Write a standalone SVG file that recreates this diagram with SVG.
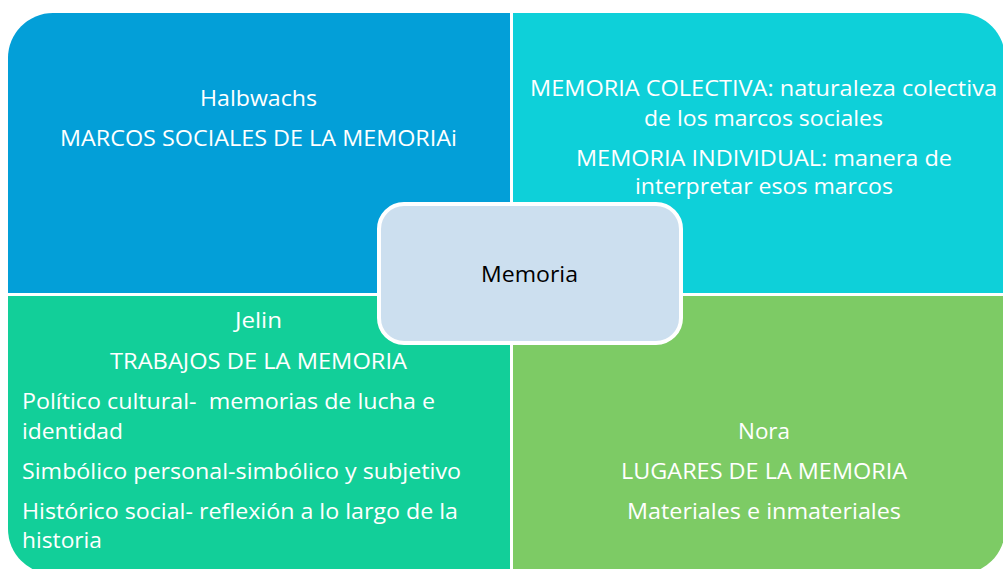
<svg xmlns="http://www.w3.org/2000/svg" width="1003" height="569" viewBox="0 0 1003 569">
<style>
.t{font-family:"Open Sans","Noto Sans","Liberation Sans",sans-serif;font-size:21.5px;fill:#ffffff;}
.c{text-anchor:middle;}
.k{fill:#000000;}
</style>
<rect width="1003" height="569" fill="#ffffff"/>
<g id="halbwachs">
<path d="M8,58 A45,45 0 0 1 53,13 L510,13 L510,293 L8,293 Z" fill="#039FD8"/>
<text class="t" x="200" y="106" textLength="117" lengthAdjust="spacingAndGlyphs">Halbwachs</text>
<text class="t" x="60" y="146" textLength="397" lengthAdjust="spacingAndGlyphs">MARCOS SOCIALES DE LA MEMORIAi</text>
</g>
<g id="memoria-colectiva">
<path d="M513,13 L960,13 A45,45 0 0 1 1005,58 L1005,293 L513,293 Z" fill="#0ED0D9"/>
<text class="t" x="530" y="96" textLength="467" lengthAdjust="spacingAndGlyphs">MEMORIA COLECTIVA: naturaleza colectiva</text>
<text class="t" x="644" y="126" textLength="239" lengthAdjust="spacingAndGlyphs">de los marcos sociales</text>
<text class="t" x="576" y="166" textLength="376" lengthAdjust="spacingAndGlyphs">MEMORIA INDIVIDUAL: manera de</text>
<text class="t" x="635" y="194" textLength="258" lengthAdjust="spacingAndGlyphs">interpretar esos marcos</text>
</g>
<g id="jelin">
<path d="M8,296 L510,296 L510,574 L53,574 A45,45 0 0 1 8,529 Z" fill="#12CF99"/>
<text class="t" x="235" y="328" textLength="47" lengthAdjust="spacingAndGlyphs">Jelin</text>
<text class="t" x="110" y="369" textLength="297" lengthAdjust="spacingAndGlyphs">TRABAJOS DE LA MEMORIA</text>
<text class="t" x="22" y="409" textLength="413" lengthAdjust="spacingAndGlyphs" xml:space="preserve">Político cultural-  memorias de lucha e</text>
<text class="t" x="22" y="439" textLength="101" lengthAdjust="spacingAndGlyphs">identidad</text>
<text class="t" x="22" y="479" textLength="439" lengthAdjust="spacingAndGlyphs">Simbólico personal-simbólico y subjetivo</text>
<text class="t" x="22" y="519" textLength="436" lengthAdjust="spacingAndGlyphs">Histórico social- reflexión a lo largo de la</text>
<text class="t" x="22" y="548" textLength="80" lengthAdjust="spacingAndGlyphs">historia</text>
</g>
<g id="nora">
<path d="M513,296 L1005,296 L1005,529 A45,45 0 0 1 960,574 L513,574 Z" fill="#7DCB65"/>
<text class="t" x="738" y="439" textLength="52" lengthAdjust="spacingAndGlyphs">Nora</text>
<text class="t" x="621" y="479" textLength="286" lengthAdjust="spacingAndGlyphs">LUGARES DE LA MEMORIA</text>
<text class="t" x="627" y="519" textLength="274" lengthAdjust="spacingAndGlyphs">Materiales e inmateriales</text>
</g>
<g id="memoria">
<rect x="379" y="204" width="302" height="139" rx="25" ry="25" fill="#CCDFEF" stroke="#ffffff" stroke-width="4"/>
<text class="t k" x="481" y="282" textLength="97" lengthAdjust="spacingAndGlyphs">Memoria</text>
</g>
<g id="connectors"></g>
</svg>
